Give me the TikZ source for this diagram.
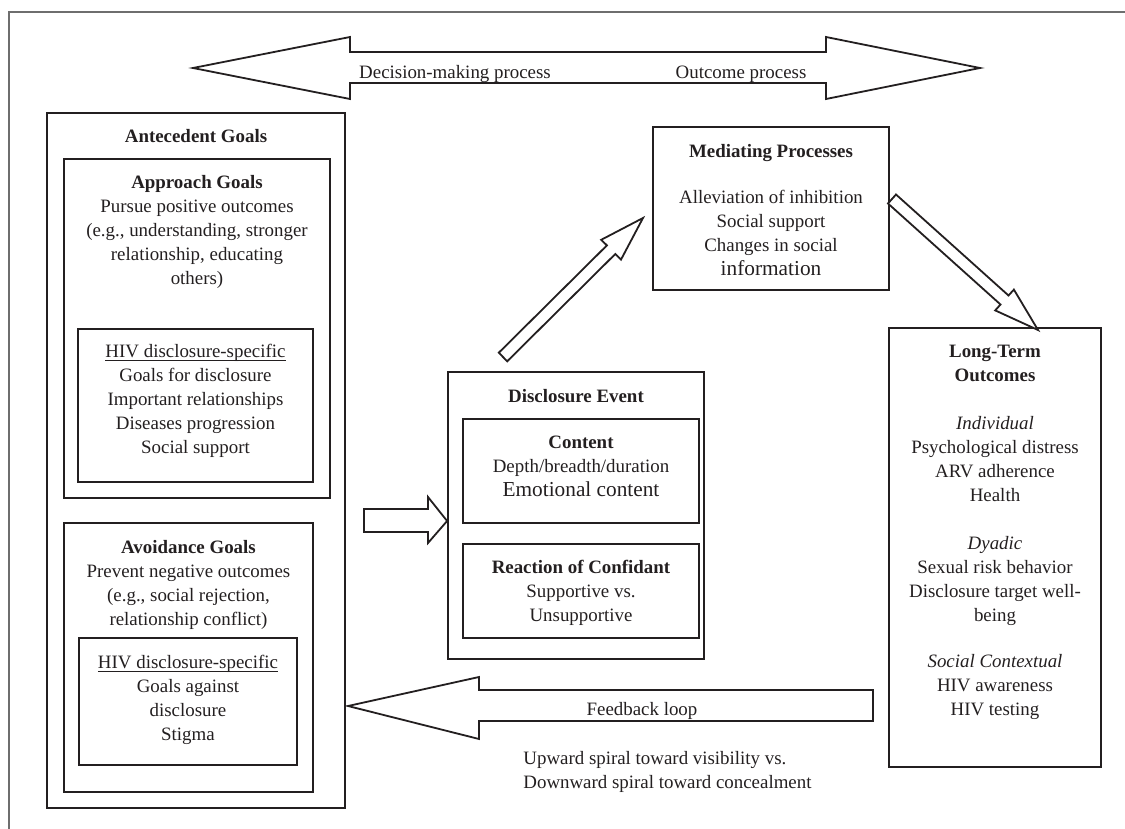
\documentclass[tikz,border=0pt]{standalone}
\usepackage{fontspec}
\setmainfont{Liberation Serif}
\usetikzlibrary{fit}
\definecolor{ink}{HTML}{231F20}
\definecolor{framegray}{HTML}{6E6E6E}
\tikzset{
  boxd/.style={draw=ink, line width=0.9pt, inner sep=0pt},
  txt/.style={text=ink, inner sep=0pt, align=center, anchor=north,
    font=\fontsize{9.45}{12}\selectfont},
  txtl/.style={text=ink, inner sep=0pt, align=left, anchor=north west,
    font=\fontsize{9.45}{12}\selectfont},
  blk/.style={draw=ink, line width=0.9pt, fill=white, line join=miter},
  framel/.style={draw=framegray, line width=0.8pt}
}
\newcommand{\bigtxt}[1]{{\fontsize{10.65}{12}\selectfont #1}}
\newcommand{\ulbase}[1]{\underline{\smash{#1}}}
\begin{document}
\begin{tikzpicture}[x=0.5pt, y=-0.5pt]
\useasboundingbox (0,0) rectangle (1125,829);
% frame
\draw[framel] (9,829) -- (9,12) -- (1125,12);

% top double arrow
\draw[blk] (193,68) -- (350,37) -- (350,52) -- (826,52) -- (826,37) -- (980,68)
  -- (826,99) -- (826,83) -- (350,83) -- (350,99) -- cycle;
\node[txt, anchor=base] (dm) at (455,79) {Decision-making process};
\node[txt, anchor=base] (op) at (741,79) {Outcome process};

% Antecedent goals
\node[boxd, fit={(47,113)(345,808)}] (ante) {};
\node[txt] (anteT) at (196,125.7) {\strut\textbf{Antecedent Goals}};
\node[boxd, fit={(64,159)(330,498)}] (appr) {};
\node[txt] (apprT) at (197,171.7) {\strut\textbf{Approach Goals}\\ Pursue positive outcomes\\ (e.g., understanding, stronger\\ relationship, educating\\ others)};
\node[boxd, fit={(78,329)(313,482)}] (hivA) {};
\node[txt] (hivAT) at (195.5,340.7) {\strut\ulbase{HIV disclosure-specific}\\ Goals for disclosure\\ Important relationships\\ Diseases progression\\ Social support};
\node[boxd, fit={(64,523)(313,792)}] (avoid) {};
\node[txt] (avoidT) at (188.5,536.7) {\strut\textbf{Avoidance Goals}\\ Prevent negative outcomes\\ (e.g., social rejection,\\ relationship conflict)};
\node[boxd, fit={(79,638)(297,765)}] (hivB) {};
\node[txt] (hivBT) at (188,651.7) {\strut\ulbase{HIV disclosure-specific}\\ Goals against\\ disclosure\\ Stigma};

% Disclosure event
\node[boxd, fit={(448,372)(704,659)}] (disc) {};
\node[txt] (discT) at (576,385.7) {\strut\textbf{Disclosure Event}};
\node[boxd, fit={(463,419)(699,523)}] (cont) {};
\node[txt] (contT) at (581,431.7) {\strut\textbf{Content}\\ Depth/breadth/duration\\ \bigtxt{Emotional content}};
\node[boxd, fit={(463,544)(699,638)}] (reac) {};
\node[txt] (reacT) at (581,556.7) {\strut\textbf{Reaction of Confidant}\\ Supportive vs.\\ Unsupportive};

% Mediating processes
\node[boxd, fit={(653,127)(889,290)}] (med) {};
\node[txt] (medT) at (771,140.7) {\strut\textbf{Mediating Processes}\\[11pt] Alleviation of inhibition\\ Social support\\ Changes in social\\ \bigtxt{information}};

% Long-term outcomes
\node[boxd, fit={(889,328)(1101,767)}] (lto) {};
\node[txt] (ltoT) at (995,340.7) {\strut\textbf{Long-Term}\\ \textbf{Outcomes}\\[12pt] \textit{Individual}\\ Psychological distress\\ ARV adherence\\ Health\\[12pt] \textit{Dyadic}\\ Sexual risk behavior\\ Disclosure target well-\\ being\\[11pt] \textit{Social Contextual}\\ HIV awareness\\ HIV testing};

% arrow antecedent -> disclosure
\draw[blk] (364,509) -- (428,509) -- (428,497) -- (disc.west |- 0,521) -- (428,543)
  -- (428,532) -- (364,532) -- cycle;

% arrow disclosure -> mediating
\draw[blk] (498.8,352.7) -- (606.9,245.4) -- (601.2,239.8) -- (643,218)
  -- (621.0,259.6) -- (615.3,254.0) -- (507.2,361.3) -- cycle;

% arrow mediating -> long-term
\draw[blk] (896.0,194.5) -- (1008.5,295.5) -- (1013.9,289.6) -- (1038,330)
  -- (995.2,310.4) -- (1000.5,304.5) -- (888.0,203.5) -- cycle;

% feedback arrow
\draw[blk] (348,706) -- (479,677) -- (479,690) -- (873,690) -- (873,721)
  -- (479,721) -- (479,739) -- cycle;
\node[txt, anchor=base] (fb) at (642,715.5) {Feedback loop};
\node[txtl] (spiral) at (523,747.7) {\strut Upward spiral toward visibility vs.\\ Downward spiral toward concealment};
\end{tikzpicture}
\end{document}
